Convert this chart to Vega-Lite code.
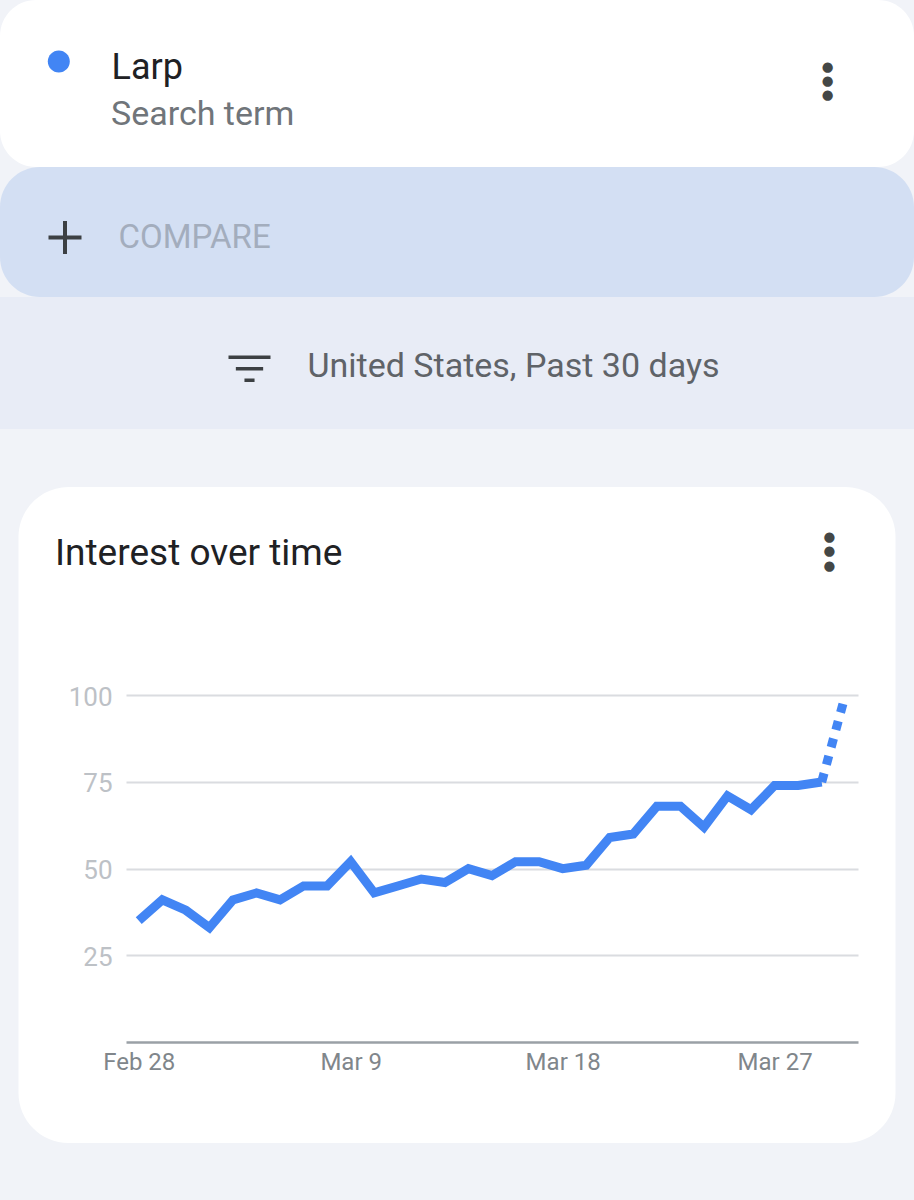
{
  "$schema": "https://vega.github.io/schema/vega-lite/v6.json",
  "background": "#f1f3f8",
  "padding": {"left": 0, "right": 0, "top": 0, "bottom": 57},
  "spacing": 0,
  "bounds": "flush",
  "center": true,
  "config": {
    "font": "Roboto",
    "view": {"stroke": null},
    "axis": {"labelFont": "Roboto", "titleFont": "Roboto"},
    "legend": {"labelFont": "Roboto", "titleFont": "Roboto"}
  },
  "resolve": {
    "scale": {"shape": "independent"},
    "legend": {"shape": "independent"}
  },
  "vconcat": [
    {
      "width": 914,
      "height": 167,
      "view": {"fill": "#ffffff", "cornerRadius": 36, "stroke": null},
      "title": {
        "text": ["●", "●", "●"],
        "orient": "bottom",
        "anchor": "end",
        "frame": "group",
        "align": "center",
        "baseline": "top",
        "dx": -86.3,
        "offset": -107,
        "font": "DejaVu Sans",
        "fontSize": 13.5,
        "fontWeight": "normal",
        "lineHeight": 14,
        "color": "#444746"
      },
      "data": {"values": []},
      "mark": "point"
    },
    {
      "width": 914,
      "height": 130,
      "view": {"fill": "#d3dff3", "cornerRadius": 40, "stroke": null},
      "data": {"values": []},
      "mark": {"type": "point", "filled": false, "color": "#3c4043", "strokeWidth": 4, "opacity": 1},
      "encoding": {
        "shape": {
          "field": "action",
          "type": "nominal",
          "scale": {"domain": ["COMPARE"], "range": ["M-1,0H1M0,-1V1"]},
          "legend": {
            "orient": "none",
            "legendX": 46.5,
            "legendY": 52,
            "padding": 0,
            "title": null,
            "symbolSize": 1089,
            "symbolStrokeColor": "#3c4043",
            "symbolStrokeWidth": 4,
            "symbolFillColor": "transparent",
            "symbolOpacity": 1,
            "labelFontSize": 33,
            "labelColor": "#a3adbd",
            "labelOffset": 35,
            "labelLimit": 500
          }
        }
      }
    },
    {
      "width": 914,
      "height": 132,
      "view": {"fill": "#e8ecf6", "cornerRadius": 0, "stroke": null},
      "data": {"values": []},
      "mark": {"type": "point", "filled": false, "color": "#3c4043", "strokeWidth": 3.5, "opacity": 1},
      "encoding": {
        "shape": {
          "field": "filter",
          "type": "nominal",
          "scale": {"domain": ["United States, Past 30 days"], "range": ["M-1,-0.46H1M-0.65,0.09H0.65M-0.24,0.64H0.24"]},
          "legend": {
            "orient": "none",
            "legendX": 226.5,
            "legendY": 46.8,
            "padding": 0,
            "title": null,
            "symbolSize": 1764,
            "symbolStrokeColor": "#3c4043",
            "symbolStrokeWidth": 3.5,
            "symbolFillColor": "transparent",
            "symbolOpacity": 1,
            "labelFontSize": 34,
            "labelColor": "#5f6368",
            "labelOffset": 35,
            "labelLimit": 700
          }
        }
      }
    },
    {
      "width": 914,
      "height": 58,
      "data": {"values": []},
      "mark": "point"
    },
    {
      "width": 877,
      "height": 656,
      "view": {"fill": "#ffffff", "cornerRadius": 50, "stroke": null},
      "title": {
        "text": "Interest over time",
        "orient": "bottom",
        "anchor": "start",
        "frame": "group",
        "align": "left",
        "baseline": "alphabetic",
        "dx": 36.5,
        "offset": -578,
        "fontSize": 37,
        "fontWeight": "normal",
        "color": "#202124"
      },
      "data": {
        "values": [
          {"date": "2023-02-28", "value": 35, "term": "Larp"},
          {"date": "2023-03-01", "value": 41, "term": "Larp"},
          {"date": "2023-03-02", "value": 38, "term": "Larp"},
          {"date": "2023-03-03", "value": 33, "term": "Larp"},
          {"date": "2023-03-04", "value": 41, "term": "Larp"},
          {"date": "2023-03-05", "value": 43, "term": "Larp"},
          {"date": "2023-03-06", "value": 41, "term": "Larp"},
          {"date": "2023-03-07", "value": 45, "term": "Larp"},
          {"date": "2023-03-08", "value": 45, "term": "Larp"},
          {"date": "2023-03-09", "value": 52, "term": "Larp"},
          {"date": "2023-03-10", "value": 43, "term": "Larp"},
          {"date": "2023-03-11", "value": 45, "term": "Larp"},
          {"date": "2023-03-12", "value": 47, "term": "Larp"},
          {"date": "2023-03-13", "value": 46, "term": "Larp"},
          {"date": "2023-03-14", "value": 50, "term": "Larp"},
          {"date": "2023-03-15", "value": 48, "term": "Larp"},
          {"date": "2023-03-16", "value": 52, "term": "Larp"},
          {"date": "2023-03-17", "value": 52, "term": "Larp"},
          {"date": "2023-03-18", "value": 50, "term": "Larp"},
          {"date": "2023-03-19", "value": 51, "term": "Larp"},
          {"date": "2023-03-20", "value": 59, "term": "Larp"},
          {"date": "2023-03-21", "value": 60, "term": "Larp"},
          {"date": "2023-03-22", "value": 68, "term": "Larp"},
          {"date": "2023-03-23", "value": 68, "term": "Larp"},
          {"date": "2023-03-24", "value": 62, "term": "Larp"},
          {"date": "2023-03-25", "value": 71, "term": "Larp"},
          {"date": "2023-03-26", "value": 67, "term": "Larp"},
          {"date": "2023-03-27", "value": 74, "term": "Larp"},
          {"date": "2023-03-28", "value": 74, "term": "Larp"},
          {"date": "2023-03-29", "value": 75, "term": "Larp"},
          {"date": "2023-03-30", "value": 100, "term": "Larp"}
        ]
      },
      "encoding": {
        "x": {
          "field": "date",
          "type": "temporal",
          "scale": {
            "type": "utc",
            "domain": [
              {"year": 2023, "month": 2, "date": 27, "hours": 11, "utc": true},
              {"year": 2023, "month": 3, "date": 30, "hours": 13, "utc": true}
            ],
            "range": [107.5, 839.5]
          },
          "axis": {
            "orient": "bottom",
            "offset": -101,
            "values": [
              {"year": 2023, "month": 2, "date": 28, "utc": true},
              {"year": 2023, "month": 3, "date": 9, "utc": true},
              {"year": 2023, "month": 3, "date": 18, "utc": true},
              {"year": 2023, "month": 3, "date": 27, "utc": true}
            ],
            "format": "%b %-d",
            "grid": false,
            "ticks": false,
            "tickSize": 0,
            "domain": true,
            "domainColor": "#9aa0a6",
            "domainWidth": 2.5,
            "labelFontSize": 24,
            "labelColor": "#80868b",
            "labelPadding": 8,
            "labelFlush": false,
            "labelOverlap": false,
            "title": ["●", "●", "●"],
            "titleFont": "DejaVu Sans",
            "titleFontSize": 13.5,
            "titleFontWeight": "normal",
            "titleLineHeight": 14.4,
            "titleColor": "#444746",
            "titleX": 810.5,
            "titleY": -512.5,
            "titleAlign": "center",
            "titleBaseline": "top",
            "titleAngle": 0
          }
        },
        "y": {
          "field": "value",
          "type": "quantitative",
          "scale": {"domain": [0, 100], "range": [555, 208.3], "nice": false},
          "axis": {
            "orient": "left",
            "offset": -107.5,
            "values": [25, 50, 75, 100],
            "grid": true,
            "gridColor": "#dadce0",
            "gridWidth": 2,
            "domain": false,
            "ticks": false,
            "tickSize": 0,
            "labelFontSize": 26,
            "labelColor": "#bdc1c6",
            "labelPadding": 14,
            "labelOffset": 2,
            "title": null
          }
        },
        "color": {
          "field": "term",
          "type": "nominal",
          "scale": {"domain": ["Larp"], "range": ["#4285f4"]},
          "legend": {
            "orient": "none",
            "legendX": 111,
            "legendY": 50,
            "padding": 0,
            "title": "Search term",
            "titleOrient": "bottom",
            "titleAnchor": "start",
            "titleAlign": "left",
            "titleFontSize": 34,
            "titleFontWeight": "normal",
            "titleColor": "#70757a",
            "titlePadding": 12,
            "titleLimit": 600,
            "symbolType": "M-1,-0.59A1,1,0,1,1,1,-0.59A1,1,0,1,1,-1,-0.59Z",
            "symbolSize": 484,
            "symbolFillColor": "#4285f4",
            "symbolStrokeColor": "#4285f4",
            "symbolStrokeWidth": 0,
            "symbolOffset": -70.2,
            "labelFontSize": 36,
            "labelColor": "#202124",
            "labelOffset": 34.7,
            "labelLimit": 400
          }
        }
      },
      "layer": [
        {
          "transform": [{"filter": {"field": "date", "lte": {"year": 2023, "month": 3, "date": 29, "utc": true}}}],
          "mark": {"type": "line", "strokeWidth": 9}
        },
        {
          "transform": [{"filter": {"field": "date", "gte": {"year": 2023, "month": 3, "date": 29, "utc": true}}}],
          "mark": {"type": "line", "strokeWidth": 9, "strokeDash": [9, 9]}
        }
      ]
    }
  ]
}
